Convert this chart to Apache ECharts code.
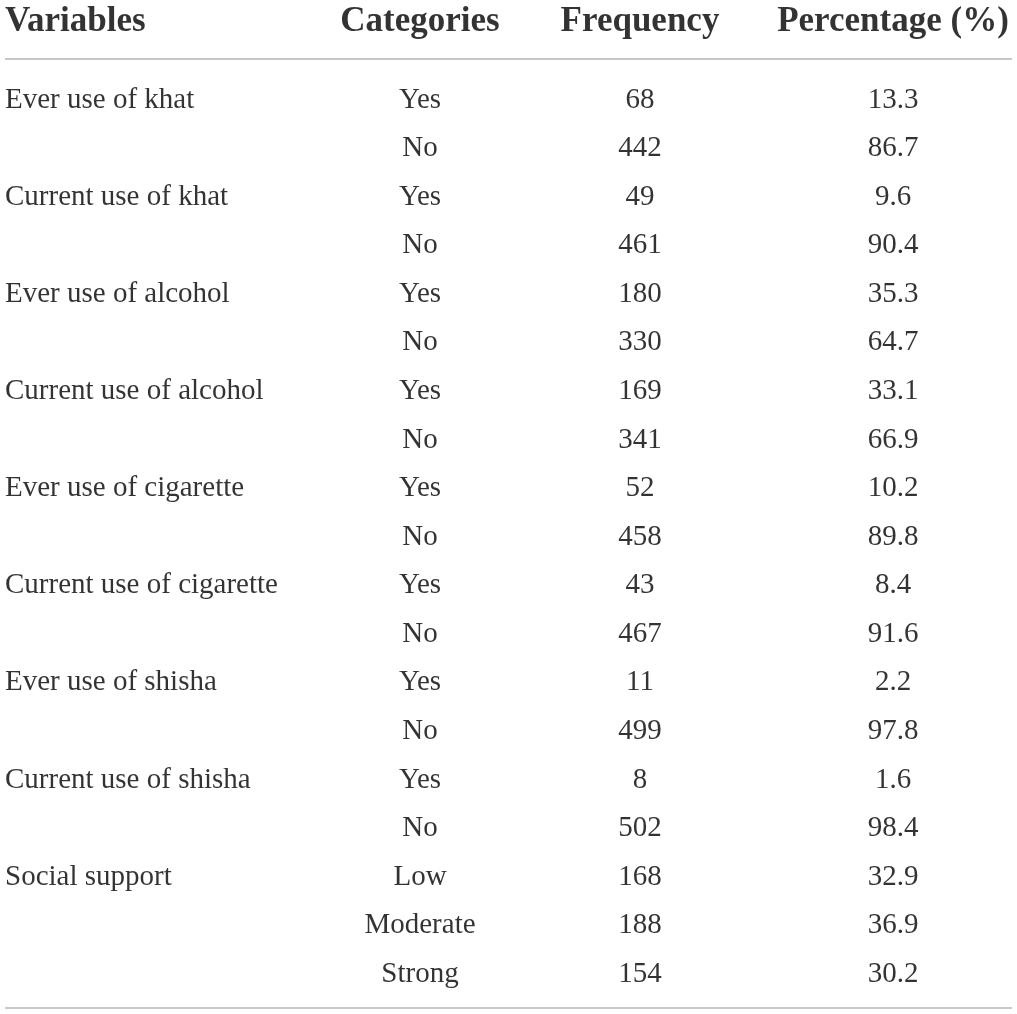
<!DOCTYPE html>
<html>
<head>
<meta charset="utf-8">
<script src="https://cdn.jsdelivr.net/npm/echarts@6/dist/echarts.min.js"></script>
<style>
  html, body { margin: 0; padding: 0; background: #fff; }
  #chart { width: 1017px; height: 1014px; }
</style>
</head>
<body>
<div id="chart"></div>
<script>
// table content
const headers = ['Variables', 'Categories', 'Frequency', 'Percentage (%)'];
const variables = [
  'Ever use of khat', 'Current use of khat',
  'Ever use of alcohol', 'Current use of alcohol',
  'Ever use of cigarette', 'Current use of cigarette',
  'Ever use of shisha', 'Current use of shisha',
  'Social support'
];
const categories = [
  ['Yes', 'No'], ['Yes', 'No'], ['Yes', 'No'], ['Yes', 'No'],
  ['Yes', 'No'], ['Yes', 'No'], ['Yes', 'No'], ['Yes', 'No'],
  ['Low', 'Moderate', 'Strong']
];
const frequency = [68, 442, 49, 461, 180, 330, 169, 341, 52, 458, 43, 467, 11, 499, 8, 502, 168, 188, 154];
const percentage = [13.3, 86.7, 9.6, 90.4, 35.3, 64.7, 33.1, 66.9, 10.2, 89.8, 8.4, 91.6, 2.2, 97.8, 1.6, 98.4, 32.9, 36.9, 30.2];

// layout (x in pixels along a 5..1012 axis, y in row units)
const colX = [5, 420, 640, 893];
const headerRow = -1.606;
const ruleRows = [-0.855, 18.70];
const font = '"Liberation Serif", "DejaVu Serif", serif';

// build cells
const varCells = [], catCells = [], freqCells = [], pctCells = [];
let row = 0;
variables.forEach((v, i) => {
  varCells.push([colX[0], row, v]);
  categories[i].forEach(c => {
    catCells.push([colX[1], row, c]);
    freqCells.push([colX[2], row, String(frequency[row])]);
    pctCells.push([colX[3], row, percentage[row].toFixed(1)]);
    row++;
  });
});
const headCells = headers.map((h, i) => [colX[i], headerRow, h]);

function textSeries(data, opts) {
  return Object.assign({
    type: 'scatter',
    data: data,
    symbolSize: 0,
    clip: false,
    silent: true,
    label: Object.assign({
      show: true,
      position: 'inside',
      formatter: p => p.value[2],
      color: '#000',
      fontFamily: font,
      fontSize: 29
    }, opts.label || {})
  }, opts.extra || {});
}

const chart = echarts.init(document.getElementById('chart'));
chart.setOption({
  animation: false,
  grid: { left: 5, right: 5, top: 0, bottom: 0 },
  xAxis: { type: 'value', min: 5, max: 1012, show: false },
  yAxis: { type: 'value', min: -2.059, max: 18.82, inverse: true, show: false },
  series: [
    textSeries(headCells.slice(0, 1), {
      label: { position: 'right', distance: 0, fontSize: 35, fontWeight: 'bold' },
      extra: {
        markLine: {
          silent: true,
          symbol: 'none',
          label: { show: false },
          lineStyle: { color: '#c8c8c8', width: 2, type: 'solid' },
          data: ruleRows.map(r => ({ yAxis: r }))
        }
      }
    }),
    textSeries(headCells.slice(1), { label: { fontSize: 35, fontWeight: 'bold' } }),
    textSeries(varCells, { label: { position: 'right', distance: 0 } }),
    textSeries(catCells, {}),
    textSeries(freqCells, {}),
    textSeries(pctCells, {})
  ]
});
</script>
</body>
</html>
